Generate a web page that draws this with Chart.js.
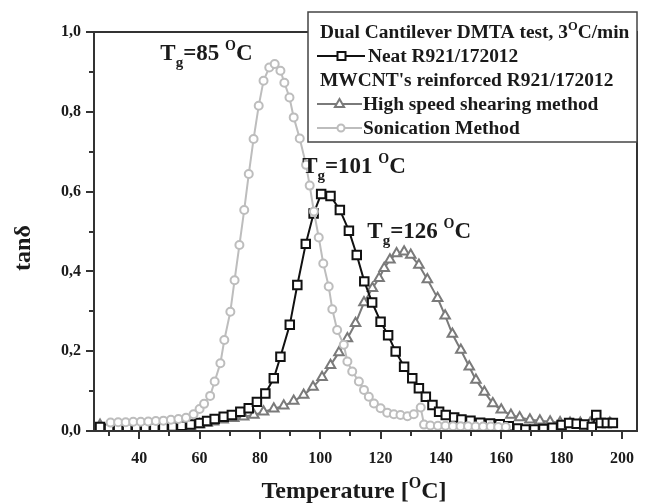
<!DOCTYPE html>
<html><head><meta charset="utf-8">
<script src="https://cdn.jsdelivr.net/npm/chart.js@4.4.1/dist/chart.umd.min.js"></script>
<style>html,body{margin:0;padding:0;background:#fff;}canvas{display:block;}</style>
</head><body>
<canvas id="c" width="646" height="503"></canvas>
<script>
// ---- tick values ----
const xTickValues = [30,40,50,60,70,80,90,100,110,120,130,140,150,160,170,180,190,200];
const xLabelValues = [40,60,80,100,120,140,160,180,200];
const yTickValues = [0,0.1,0.2,0.3,0.4,0.5,0.6,0.7,0.8,0.9,1.0];
const yLabelValues = [0,0.2,0.4,0.6,0.8,1.0];

// ---- series: Sonication Method ----
const sonicationT = [30.5,33,35.5,38,40.5,43,45.5,48,50.5,53,55.5,58,60,61.5,63.5,65,66.9,68.2,70.2,71.6,73.2,74.8,76.3,77.9,79.6,81.2,83.1,84.9,86.8,88.1,89.8,91.2,93.2,95.3,96.5,97.9,99.5,101,102.8,104,105.6,107.8,109,110.6,112.8,114.5,116.1,117.8,120,122.2,124.4,126.6,128.9,131,133.3,134.4,136.5,139,141.5,144,146.5,149,151.5,154,156.5,159,161.5];
const sonicationTan = [0.021,0.022,0.022,0.023,0.023,0.024,0.025,0.026,0.028,0.030,0.033,0.042,0.055,0.068,0.088,0.124,0.170,0.228,0.299,0.378,0.466,0.554,0.644,0.732,0.815,0.878,0.911,0.920,0.903,0.873,0.836,0.786,0.733,0.667,0.615,0.550,0.485,0.420,0.362,0.305,0.253,0.216,0.174,0.149,0.124,0.103,0.086,0.069,0.057,0.046,0.042,0.040,0.037,0.042,0.059,0.016,0.014,0.013,0.013,0.012,0.012,0.012,0.011,0.011,0.011,0.010,0.010];

// ---- series: Neat R921/172012 ----
const neatT = [27,30,33,36,39,42,45,48,51,54,57,60,62.5,65,68,70.7,73.5,76.3,79,81.8,84.6,86.8,89.9,92.4,95.2,97.8,100.3,103.4,106.5,109.5,112.1,114.6,117.2,120,122.5,125,127.8,130.5,132.7,135,137.2,139.4,141.6,144.4,146.8,149.8,153,156.3,159.5,162.5,165.5,168,171,174,177,180,182.5,185,187.5,190,191.5,193,195,197];
const neatTan = [0.010,0.006,0.006,0.006,0.007,0.007,0.008,0.009,0.011,0.013,0.016,0.020,0.025,0.030,0.036,0.040,0.048,0.057,0.073,0.094,0.132,0.186,0.266,0.366,0.469,0.545,0.594,0.589,0.554,0.502,0.441,0.375,0.322,0.274,0.240,0.199,0.161,0.132,0.107,0.086,0.065,0.048,0.040,0.034,0.029,0.026,0.021,0.019,0.017,0.012,0.006,0.004,0.004,0.005,0.008,0.015,0.020,0.018,0.016,0.010,0.040,0.020,0.020,0.020];

// ---- series: High speed shearing method ----
const hssT = [27,30,33,36,39,42,45,48,51,54,57,60,62.5,64.6,67.8,71.3,74.6,78,81.2,84.6,87.9,91.2,94.5,97.6,100.6,103.4,106.2,109,111.7,114.5,117.3,119.5,121.2,123.1,125.3,127.8,130,132.7,135.5,138.9,141.4,143.8,146.6,149.4,151.6,154.4,157.2,160,163.2,166.1,169.5,172.8,176.2,179.5,182.8,186.2,189.5,192.8,196];
const hssTan = [0.015,0.008,0.006,0.005,0.005,0.005,0.006,0.007,0.009,0.011,0.013,0.016,0.020,0.023,0.028,0.032,0.036,0.040,0.048,0.056,0.063,0.075,0.090,0.110,0.135,0.165,0.197,0.232,0.270,0.322,0.358,0.383,0.408,0.429,0.445,0.449,0.441,0.416,0.380,0.333,0.289,0.243,0.203,0.161,0.128,0.098,0.069,0.053,0.040,0.034,0.028,0.026,0.023,0.021,0.020,0.020,0.020,0.020,0.020];

const legendTitle1 = 'Dual Cantilever DMTA test, 3';
const legendTitle2 = "MWCNT's reinforced R921/172012";
const seriesNames = ['Neat R921/172012', 'High speed shearing method', 'Sonication Method'];
const xTitle = 'Temperature [';
const yTitle = 'tanδ';

const pts = (xs, ys) => xs.map((x, i) => ({x: x, y: ys[i]}));
const FONT = '"Liberation Serif", "Times New Roman", serif';
const AX = '#333';
const TXT = '#1a1a1a';
const C_NEAT = '#111111', C_HSS = '#7a7a7a', C_SON = '#bdbdbd';

function rich(ctx, x, y, parts, align) {
  const w = parts.map(p => { ctx.font = 'bold ' + p[1] + 'px ' + FONT; return ctx.measureText(p[0]).width; });
  const total = w.reduce((a, b) => a + b, 0);
  let cx = align === 'center' ? x - total / 2 : x;
  parts.forEach((p, i) => {
    ctx.font = 'bold ' + p[1] + 'px ' + FONT;
    ctx.fillText(p[0], cx, y + (p[2] || 0));
    cx += w[i];
  });
}

const deco = {
  id: 'deco',
  afterDatasetsDraw(chart) {
    const ctx = chart.ctx, ca = chart.chartArea, xs = chart.scales.x, ys = chart.scales.y;
    ctx.save();
    ctx.strokeStyle = AX; ctx.lineWidth = 2; ctx.lineCap = 'butt';
    ctx.strokeRect(ca.left, ca.top, ca.right - ca.left, ca.bottom - ca.top);
    xTickValues.forEach(v => {
      const px = Math.round(xs.getPixelForValue(v));
      const len = xLabelValues.includes(v) ? 8 : 5;
      ctx.beginPath(); ctx.moveTo(px, ca.bottom); ctx.lineTo(px, ca.bottom + len); ctx.stroke();
    });
    yTickValues.forEach(v => {
      const py = Math.round(ys.getPixelForValue(v));
      const major = yLabelValues.some(l => Math.abs(l - v) < 1e-6);
      const len = major ? 8 : 5;
      ctx.beginPath(); ctx.moveTo(ca.left, py); ctx.lineTo(ca.left - len, py); ctx.stroke();
    });
    ctx.restore();
  },
  afterDraw(chart) {
    const ctx = chart.ctx, ca = chart.chartArea, xs = chart.scales.x, ys = chart.scales.y;
    ctx.save();
    ctx.fillStyle = TXT;
    ctx.textBaseline = 'alphabetic';
    rich(ctx, xs.getPixelForValue(47.0), ys.getPixelForValue(0.93), [['T',23,0],['g',15,7],['=85 ',23,0],['O',14,-10],['C',23,0]]);
    rich(ctx, xs.getPixelForValue(94.0), ys.getPixelForValue(0.647), [['T',23,0],['g',15,7],['=101 ',23,0],['O',14,-10],['C',23,0]]);
    rich(ctx, xs.getPixelForValue(115.6), ys.getPixelForValue(0.484), [['T',23,0],['g',15,7],['=126 ',23,0],['O',14,-10],['C',23,0]]);
    rich(ctx, 354, 498, [[xTitle,24,0],['O',16,-10],['C]',24,0]], 'center');
    ctx.save();
    ctx.translate(30, 248); ctx.rotate(-Math.PI / 2);
    ctx.font = 'bold 24px ' + FONT; ctx.textAlign = 'center';
    ctx.fillText(yTitle, 0, 0);
    ctx.restore();
    const bx = 308, by = 12, bw = ca.right - 308, bh = 130;
    ctx.fillStyle = '#fff';
    ctx.fillRect(bx, by, bw, bh);
    ctx.strokeStyle = '#444'; ctx.lineWidth = 1.5;
    ctx.strokeRect(bx, by, bw, bh);
    ctx.fillStyle = TXT;
    rich(ctx, 320, 38, [[legendTitle1,19.4,0],['O',12.5,-8],['C/min',19.4,0]]);
    rich(ctx, 320, 86, [[legendTitle2,19.4,0]]);
    const rows = [
      {y: 62, x0: 317, x1: 365, cx: 341.5, tx: 368, c: C_NEAT, s: 'rect', name: seriesNames[0]},
      {y: 110, x0: 317, x1: 362, cx: 339.5, tx: 363, c: C_HSS, s: 'triangle', name: seriesNames[1]},
      {y: 134, x0: 317, x1: 362, cx: 341, tx: 363, c: C_SON, s: 'circle', name: seriesNames[2]}
    ];
    rows.forEach(r => {
      const ly = r.y - 6;
      ctx.strokeStyle = r.c; ctx.lineWidth = 2;
      ctx.beginPath(); ctx.moveTo(r.x0, ly); ctx.lineTo(r.x1, ly); ctx.stroke();
      ctx.fillStyle = '#fff';
      ctx.beginPath();
      if (r.s === 'rect') { ctx.rect(r.cx - 4, ly - 4, 8, 8); }
      else if (r.s === 'triangle') { ctx.moveTo(r.cx, ly - 5); ctx.lineTo(r.cx + 4.6, ly + 3); ctx.lineTo(r.cx - 4.6, ly + 3); ctx.closePath(); }
      else { ctx.arc(r.cx, ly, 3.5, 0, Math.PI * 2); }
      ctx.fill(); ctx.stroke();
      ctx.fillStyle = TXT;
      rich(ctx, r.tx, r.y, [[r.name,19.4,0]]);
    });
    ctx.restore();
  }
};

new Chart(document.getElementById('c'), {
  type: 'line',
  data: {
    datasets: [
      {label: seriesNames[2], data: pts(sonicationT, sonicationTan), borderColor: C_SON, borderWidth: 2,
       pointStyle: 'circle', pointRadius: 4, pointBorderWidth: 2, pointBackgroundColor: '#fff', pointBorderColor: C_SON},
      {label: seriesNames[0], data: pts(neatT, neatTan), borderColor: C_NEAT, borderWidth: 2,
       pointStyle: 'rect', pointRadius: 6, pointBorderWidth: 2, pointBackgroundColor: '#fff', pointBorderColor: C_NEAT},
      {label: seriesNames[1], data: pts(hssT, hssTan), borderColor: C_HSS, borderWidth: 2,
       pointStyle: 'triangle', pointRadius: 5.5, pointBorderWidth: 2, pointBackgroundColor: '#fff', pointBorderColor: C_HSS}
    ]
  },
  options: {
    responsive: false, animation: false, devicePixelRatio: 1,
    layout: {padding: {top: 32, right: 9, left: 0, bottom: 0}},
    plugins: {legend: {display: false}, tooltip: {enabled: false}},
    elements: {line: {tension: 0}},
    scales: {
      x: {
        type: 'linear', min: 25, max: 205,
        afterBuildTicks: s => { s.ticks = xTickValues.map(v => ({value: v})); },
        afterFit: s => { s.height = 72; },
        grid: {display: false, drawTicks: true, tickLength: 8},
        border: {display: false},
        ticks: {
          padding: 10, color: TXT, autoSkip: false, maxRotation: 0,
          font: {family: FONT, size: 16, weight: 'bold'},
          callback: v => xLabelValues.includes(v) ? String(v) : ''
        }
      },
      y: {
        type: 'linear', min: 0, max: 1,
        afterBuildTicks: s => { s.ticks = yTickValues.map(v => ({value: v})); },
        afterFit: s => { s.width = 94; },
        grid: {display: false, drawTicks: true, tickLength: 8},
        border: {display: false},
        ticks: {
          padding: 5, color: TXT, autoSkip: false,
          font: {family: FONT, size: 16, weight: 'bold'},
          callback: v => yLabelValues.some(l => Math.abs(l - v) < 1e-6) ? v.toFixed(1).replace('.', ',') : ''
        }
      }
    }
  },
  plugins: [deco]
});
</script>
</body></html>
